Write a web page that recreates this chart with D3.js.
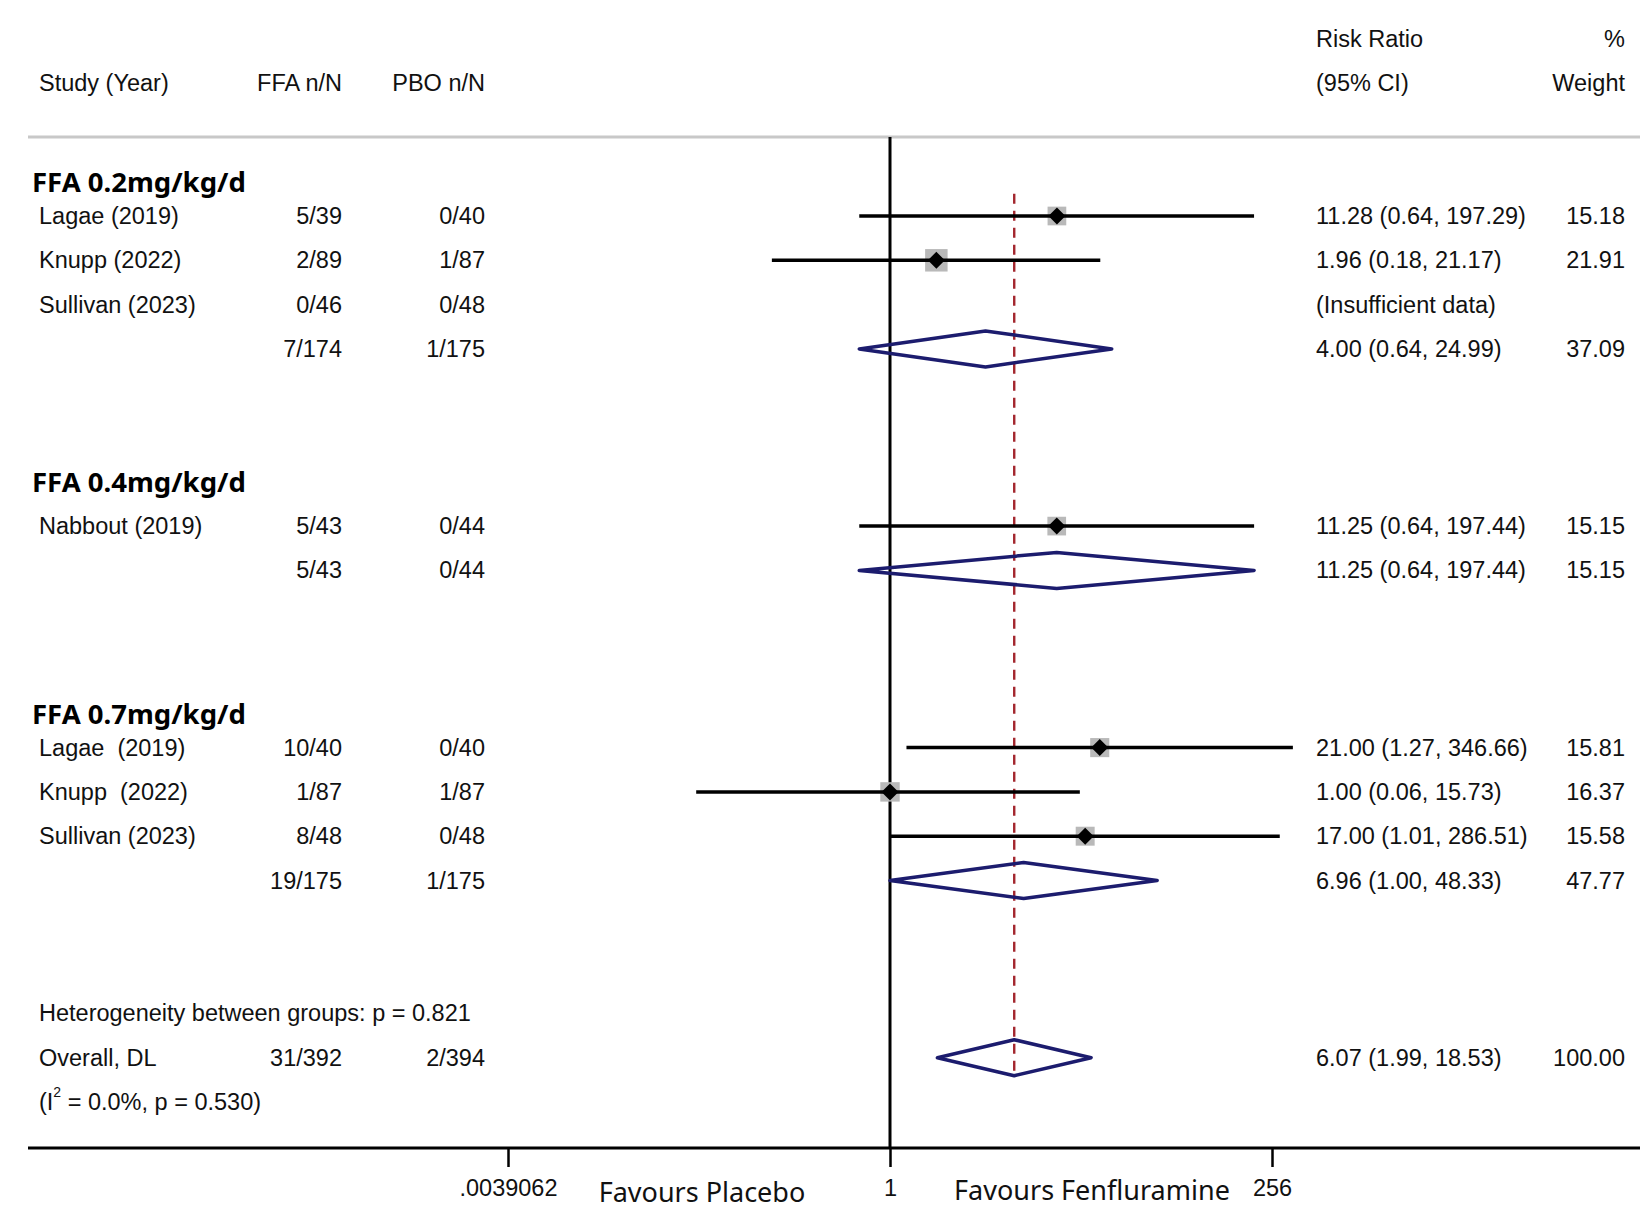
<!DOCTYPE html>
<html>
<head>
<meta charset="utf-8">
<script src="https://cdn.jsdelivr.net/npm/d3@7"></script>
<style>
  body { margin: 0; background: #fff; }
  svg text { white-space: pre; }
</style>
</head>
<body>
<script>
const [width, height] = [1651, 1210];

// data
const groupNames = ['FFA 0.2mg/kg/d', 'FFA 0.4mg/kg/d', 'FFA 0.7mg/kg/d'];
const studyNames = ['Lagae (2019)', 'Knupp (2022)', 'Sullivan (2023)', 'Nabbout (2019)',
  'Lagae  (2019)', 'Knupp  (2022)', 'Sullivan (2023)'];
const studyFFA = ['5/39', '2/89', '0/46', '5/43', '10/40', '1/87', '8/48'];
const studyPBO = ['0/40', '1/87', '0/48', '0/44', '0/40', '1/87', '0/48'];
const studyRR = [11.28, 1.96, null, 11.25, 21.00, 1.00, 17.00];
const studyLo = [0.64, 0.18, null, 0.64, 1.27, 0.06, 1.01];
const studyHi = [197.29, 21.17, null, 197.44, 346.66, 15.73, 286.51];
const studyWeight = [15.18, 21.91, null, 15.15, 15.81, 16.37, 15.58];

const subFFA = ['7/174', '5/43', '19/175'];
const subPBO = ['1/175', '0/44', '1/175'];
const subRR = [4.00, 11.25, 6.96];
const subLo = [0.64, 0.64, 1.00];
const subHi = [24.99, 197.44, 48.33];
const subWeight = [37.09, 15.15, 47.77];

const overall = {ffa: '31/392', pbo: '2/394', rr: 6.07, lo: 1.99, hi: 18.53, weight: 100.00};
const hetText = 'Heterogeneity between groups: p = 0.821';
const i2 = 0.0, i2p = 0.530;

const tickValues = [1 / 256, 1, 256];
const tickLabels = ['.0039062', '1', '256'];

// layout
const fmt2 = d3.format('.2f');
const ciText = (r, l, h) => `${fmt2(r)} (${fmt2(l)}, ${fmt2(h)})`;

// row slots: studies, subtotals, headers
const studySlot = [0, 1, 2, 7, 12, 13, 14];
const subSlot = [3, 8, 15];
const headerSlot = [-0.79, 6, 11.22];
const hetSlot = 18, overallSlot = 19, i2Slot = 20;

const yRow = d3.scaleLinear().domain([0, 20]).range([216, 1102]);
const x = d3.scaleLog().base(2).domain([1 / 256, 256]).range([508, 1272]);

const axisY = 1148, topLine = 137;
const col = {study: 39, ffa: 342, pbo: 485, rr: 1316, wt: 1625};
const textFont = '"Liberation Sans", Arial, sans-serif';
const boldFont = '"Noto Sans", "Open Sans", sans-serif';
const fs = 23.5;

const svg = d3.select('body').append('svg')
  .attr('width', width)
  .attr('height', height);

svg.append('rect').attr('width', width).attr('height', height).attr('fill', '#fff');

// header
const hdr = svg.append('g')
  .attr('font-family', textFont)
  .attr('font-size', fs)
  .attr('fill', '#111')
  .attr('dominant-baseline', 'central');
hdr.append('text').attr('x', col.study).attr('y', 83).text('Study (Year)');
hdr.append('text').attr('x', col.ffa).attr('y', 83).attr('text-anchor', 'end').text('FFA n/N');
hdr.append('text').attr('x', col.pbo).attr('y', 83).attr('text-anchor', 'end').text('PBO n/N');
hdr.append('text').attr('x', col.rr).attr('y', 39).text('Risk Ratio');
hdr.append('text').attr('x', col.rr).attr('y', 83).text('(95% CI)');
hdr.append('text').attr('x', col.wt).attr('y', 39).attr('text-anchor', 'end').text('%');
hdr.append('text').attr('x', col.wt).attr('y', 83).attr('text-anchor', 'end').text('Weight');

svg.append('line')
  .attr('x1', 28).attr('x2', 1640)
  .attr('y1', topLine).attr('y2', topLine)
  .attr('stroke', '#c8c8c8').attr('stroke-width', 3);

// null line
svg.append('line')
  .attr('x1', x(1)).attr('x2', x(1))
  .attr('y1', topLine).attr('y2', axisY)
  .attr('stroke', '#000').attr('stroke-width', 3);

// overall effect dashed line
svg.append('line')
  .attr('x1', x(overall.rr)).attr('x2', x(overall.rr))
  .attr('y1', yRow(-0.5)).attr('y2', yRow(overallSlot) + 20)
  .attr('stroke', '#a3262e').attr('stroke-width', 2.4)
  .attr('stroke-dasharray', '10,7');

// group headers
svg.append('g').selectAll('text')
  .data(groupNames)
  .join('text')
  .attr('x', 32)
  .attr('y', (d, i) => yRow(headerSlot[i]))
  .attr('dominant-baseline', 'central')
  .attr('font-family', boldFont)
  .attr('font-weight', 'bold')
  .attr('font-size', 27.5)
  .attr('fill', '#000')
  .text(d => d);

// study rows
const studies = studyNames.map((name, i) => ({
  name, ffa: studyFFA[i], pbo: studyPBO[i], rr: studyRR[i], lo: studyLo[i],
  hi: studyHi[i], w: studyWeight[i], y: yRow(studySlot[i])
}));

const rows = svg.append('g')
  .attr('font-family', textFont)
  .attr('font-size', fs)
  .attr('fill', '#111');

const sRow = rows.selectAll('g.study')
  .data(studies)
  .join('g')
  .attr('class', 'study')
  .attr('transform', d => `translate(0, ${d.y})`);

sRow.append('text').attr('x', col.study).attr('dominant-baseline', 'central').text(d => d.name);
sRow.append('text').attr('x', col.ffa).attr('text-anchor', 'end').attr('dominant-baseline', 'central').text(d => d.ffa);
sRow.append('text').attr('x', col.pbo).attr('text-anchor', 'end').attr('dominant-baseline', 'central').text(d => d.pbo);
sRow.append('text').attr('x', col.rr).attr('dominant-baseline', 'central')
  .text(d => d.rr == null ? '(Insufficient data)' : ciText(d.rr, d.lo, d.hi));
sRow.append('text').attr('x', col.wt).attr('text-anchor', 'end').attr('dominant-baseline', 'central')
  .text(d => d.w == null ? '' : fmt2(d.w));

const box = w => 4.8 * Math.sqrt(w);
const est = sRow.filter(d => d.rr != null);
est.append('rect')
  .attr('x', d => x(d.rr) - box(d.w) / 2)
  .attr('y', d => -box(d.w) / 2)
  .attr('width', d => box(d.w))
  .attr('height', d => box(d.w))
  .attr('fill', '#b9b9b9');
est.append('line')
  .attr('x1', d => x(d.lo)).attr('x2', d => x(d.hi))
  .attr('stroke', '#000').attr('stroke-width', 3.5);
est.append('path')
  .attr('d', d => `M${x(d.rr) - 8.5},0L${x(d.rr)},-8.5L${x(d.rr) + 8.5},0L${x(d.rr)},8.5Z`)
  .attr('fill', '#000');

// subtotals + overall diamonds
const diamonds = subRR.map((rr, i) => ({
  ffa: subFFA[i], pbo: subPBO[i], rr, lo: subLo[i], hi: subHi[i], w: subWeight[i], y: yRow(subSlot[i])
}));
diamonds.push({...overall, w: overall.weight, y: yRow(overallSlot), label: 'Overall, DL'});

const dRow = rows.selectAll('g.pooled')
  .data(diamonds)
  .join('g')
  .attr('class', 'pooled')
  .attr('transform', d => `translate(0, ${d.y})`);

dRow.append('text').attr('x', col.study).attr('dominant-baseline', 'central').text(d => d.label || '');
dRow.append('text').attr('x', col.ffa).attr('text-anchor', 'end').attr('dominant-baseline', 'central').text(d => d.ffa);
dRow.append('text').attr('x', col.pbo).attr('text-anchor', 'end').attr('dominant-baseline', 'central').text(d => d.pbo);
dRow.append('text').attr('x', col.rr).attr('dominant-baseline', 'central').text(d => ciText(d.rr, d.lo, d.hi));
dRow.append('text').attr('x', col.wt).attr('text-anchor', 'end').attr('dominant-baseline', 'central').text(d => fmt2(d.w));
dRow.append('path')
  .attr('d', d => `M${x(d.lo)},0L${x(d.rr)},-18L${x(d.hi)},0L${x(d.rr)},18Z`)
  .attr('fill', 'none')
  .attr('stroke', '#1c1c6e')
  .attr('stroke-width', 3.5)
  .attr('stroke-linejoin', 'round');

// heterogeneity text
rows.append('text')
  .attr('x', col.study).attr('y', yRow(hetSlot))
  .attr('dominant-baseline', 'central')
  .text(hetText);

const i2t = rows.append('text')
  .attr('x', col.study).attr('y', yRow(i2Slot))
  .attr('dominant-baseline', 'central');
i2t.append('tspan').text('(I');
i2t.append('tspan').attr('font-size', 14).attr('dy', -10).text('2');
i2t.append('tspan').attr('dy', 10).text(` = ${d3.format('.1f')(i2)}%, p = ${d3.format('.3f')(i2p)})`);

// x axis
svg.append('line')
  .attr('x1', 28).attr('x2', 1640)
  .attr('y1', axisY).attr('y2', axisY)
  .attr('stroke', '#000').attr('stroke-width', 3);

const gAxis = svg.append('g')
  .attr('transform', `translate(0, ${axisY})`)
  .call(d3.axisBottom(x)
    .tickValues(tickValues)
    .tickFormat((d, i) => tickLabels[i])
    .tickSize(19)
    .tickPadding(12));
gAxis.select('.domain').remove();
gAxis.selectAll('.tick line').attr('stroke', '#000').attr('stroke-width', 2.5);
gAxis.selectAll('.tick text')
  .attr('font-family', textFont)
  .attr('font-size', fs)
  .attr('fill', '#111');

const favours = svg.append('g')
  .attr('font-family', boldFont)
  .attr('font-size', 27)
  .attr('fill', '#111')
  .attr('text-anchor', 'middle')
  .attr('dominant-baseline', 'central');
favours.append('text').attr('x', 702).attr('y', 1191).text('Favours Placebo');
favours.append('text').attr('x', 1092).attr('y', 1189).text('Favours Fenfluramine');
</script>
</body>
</html>
